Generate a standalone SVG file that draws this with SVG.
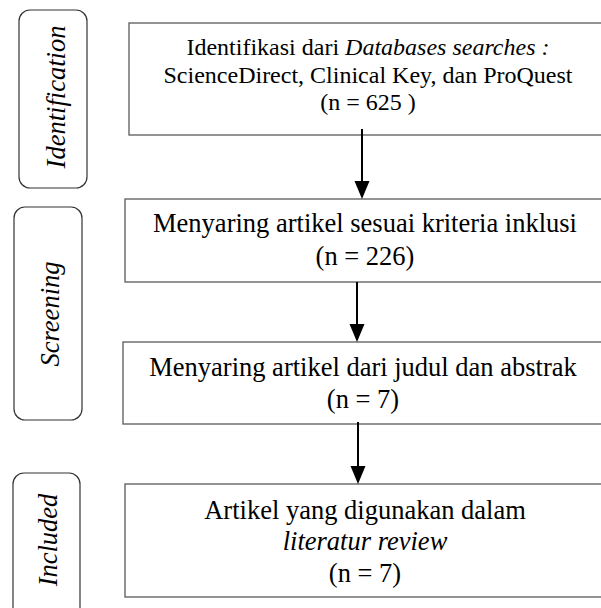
<svg xmlns="http://www.w3.org/2000/svg" width="601" height="608" viewBox="0 0 601 608">
  <style>
    .box { fill: #ffffff; stroke: #5a5a5a; stroke-width: 1.3; }
    .stage { fill: #ffffff; stroke: #333333; stroke-width: 1.2; }
    .t { font-family: "Liberation Serif", "Times New Roman", serif; fill: #000000; text-anchor: middle; }
    .t1 { font-size: 24px; }
    .t2 { font-size: 26.5px; }
    .side { font-family: "Liberation Serif", "Times New Roman", serif; font-style: italic; font-size: 26.5px; fill: #000000; text-anchor: middle; }
    .arrow line { stroke: #000000; stroke-width: 2; }
    .arrow polygon { fill: #000000; }
  </style>

  <g id="stage-identification">
    <rect class="stage" x="19" y="10" width="68" height="178" rx="11" ry="11"/>
    <text class="side" transform="translate(65,97) rotate(-90)">Identification</text>
  </g>
  <g id="stage-screening">
    <rect class="stage" x="14" y="207" width="68" height="213" rx="11" ry="11"/>
    <text class="side" transform="translate(59,314) rotate(-90)">Screening</text>
  </g>
  <g id="stage-included">
    <rect class="stage" x="13" y="473" width="67" height="150" rx="11" ry="11"/>
    <text class="side" transform="translate(57,540) rotate(-90)">Included</text>
  </g>

  <g id="node-identifikasi">
    <rect class="box" x="129" y="23" width="500" height="112"/>
    <text class="t t1" x="368" y="55">Identifikasi dari <tspan font-style="italic">Databases searches :</tspan></text>
    <text class="t t1" x="368" y="83">ScienceDirect, Clinical Key, dan ProQuest</text>
    <text class="t t1" x="368" y="110">(n = 625 )</text>
  </g>
  <g id="node-menyaring-inklusi">
    <rect class="box" x="125" y="199" width="500" height="83"/>
    <text class="t t2" x="365" y="232">Menyaring artikel sesuai kriteria inklusi</text>
    <text class="t t2" x="365" y="265">(n = 226)</text>
  </g>
  <g id="node-menyaring-judul">
    <rect class="box" x="123" y="342" width="500" height="82"/>
    <text class="t t2" x="363" y="376">Menyaring artikel dari judul dan abstrak</text>
    <text class="t t2" x="363" y="408">(n = 7)</text>
  </g>
  <g id="node-artikel">
    <rect class="box" x="125" y="484" width="500" height="113"/>
    <text class="t t2" x="365" y="519">Artikel yang digunakan dalam</text>
    <text class="t t2" x="365" y="550" font-style="italic">literatur review</text>
    <text class="t t2" x="365" y="582">(n = 7)</text>
  </g>

  <g id="connectors">
    <g class="arrow">
      <line x1="362" y1="129" x2="362" y2="182"/>
      <polygon points="354.5,181 369.5,181 362,199"/>
    </g>
    <g class="arrow">
      <line x1="357" y1="282" x2="357" y2="325"/>
      <polygon points="349.5,324 364.5,324 357,342"/>
    </g>
    <g class="arrow">
      <line x1="358" y1="422" x2="358" y2="467"/>
      <polygon points="350.5,466 365.5,466 358,484"/>
    </g>
  </g>
</svg>
